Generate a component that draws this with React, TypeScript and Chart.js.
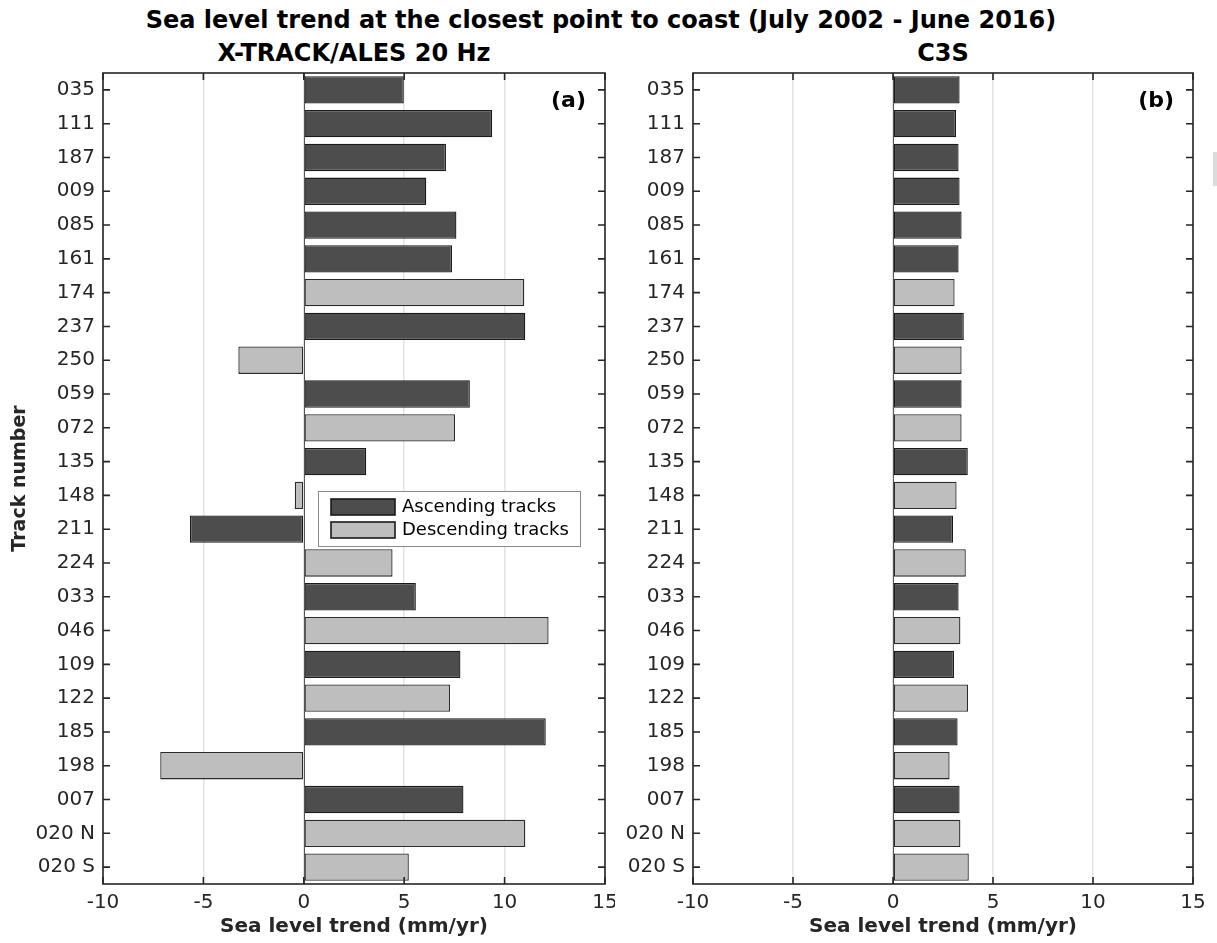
import React, { useEffect, useRef } from "react";
import { Chart, registerables } from "chart.js";
Chart.register(...registerables);

const trackLabels = ["035", "111", "187", "009", "085", "161", "174", "237", "250", "059", "072", "135", "148", "211", "224", "033", "046", "109", "122", "185", "198", "007", "020 N", "020 S"];
const trackDirection = ["A", "A", "A", "A", "A", "A", "D", "A", "D", "A", "D", "A", "D", "A", "D", "A", "D", "A", "D", "A", "D", "A", "D", "D"];
const xtrackTrend = [4.98, 9.38, 7.08, 6.1, 7.6, 7.38, 10.98, 11.03, -3.26, 8.27, 7.53, 3.11, -0.45, -5.67, 4.42, 5.58, 12.19, 7.8, 7.28, 12.05, -7.15, 7.95, 11.03, 5.23];
const c3sTrend = [3.33, 3.15, 3.28, 3.33, 3.43, 3.28, 3.08, 3.54, 3.43, 3.43, 3.43, 3.74, 3.18, 3.0, 3.64, 3.28, 3.37, 3.05, 3.75, 3.23, 2.83, 3.33, 3.37, 3.79];
const xTicks = [-10, -5, 0, 5, 10, 15];
const seriesNames = ["Ascending tracks", "Descending tracks"];

const FONT = "'DejaVu Sans', sans-serif";
const TEXT = "#262626";
const DARK = "#4d4d4d";
const LIGHT = "#bebebe";

type PanelOpts = {
  values: number[];
  panelLabel: string;
  showYTitle: boolean;
  showLegend: boolean;
  yWidth: number;
  padRight: number;
};

function makePlugin(p: PanelOpts) {
  return {
    id: "frame" + p.panelLabel,
    afterDraw(chart: any) {
      const ctx = chart.ctx as CanvasRenderingContext2D;
      const a = chart.chartArea;
      const xs = chart.scales.x;
      const ys = chart.scales.y;
      ctx.save();
      // baseline at 0
      ctx.strokeStyle = "#555555";
      ctx.lineWidth = 1;
      const x0 = Math.round(xs.getPixelForValue(0)) + 0.5;
      ctx.beginPath();
      ctx.moveTo(x0, a.top);
      ctx.lineTo(x0, a.bottom);
      ctx.stroke();
      // frame
      ctx.strokeStyle = TEXT;
      ctx.lineWidth = 1.6;
      ctx.strokeRect(a.left, a.top, a.right - a.left, a.bottom - a.top);
      // ticks
      const tl = 7;
      ctx.beginPath();
      xTicks.forEach((v) => {
        const px = xs.getPixelForValue(v);
        ctx.moveTo(px, a.top);
        ctx.lineTo(px, a.top + tl);
        ctx.moveTo(px, a.bottom);
        ctx.lineTo(px, a.bottom - tl);
      });
      trackLabels.forEach((_, i) => {
        const py = ys.getPixelForValue(i);
        ctx.moveTo(a.left, py);
        ctx.lineTo(a.left + tl, py);
        ctx.moveTo(a.right, py);
        ctx.lineTo(a.right - tl, py);
      });
      ctx.stroke();
      // panel label
      ctx.fillStyle = "#000";
      ctx.font = `bold 22px ${FONT}`;
      ctx.textAlign = "right";
      ctx.textBaseline = "middle";
      ctx.fillText(p.panelLabel, a.right - 19, a.top + 28);
      // legend
      if (p.showLegend) {
        const bx = a.left + 215;
        const by = a.top + 418;
        const bw = 262;
        const bh = 55;
        ctx.fillStyle = "#fff";
        ctx.fillRect(bx, by, bw, bh);
        ctx.strokeStyle = "#8a8a8a";
        ctx.lineWidth = 1;
        ctx.strokeRect(bx + 0.5, by + 0.5, bw, bh);
        const rows = [
          { name: seriesNames[0], fill: DARK, cy: by + 16 },
          { name: seriesNames[1], fill: LIGHT, cy: by + 39 },
        ];
        rows.forEach((r) => {
          ctx.fillStyle = r.fill;
          ctx.fillRect(bx + 13, r.cy - 8, 64, 16);
          ctx.strokeStyle = "#1a1a1a";
          ctx.lineWidth = 1.6;
          ctx.strokeRect(bx + 13, r.cy - 8, 64, 16);
          ctx.fillStyle = "#000";
          ctx.font = `18px ${FONT}`;
          ctx.textAlign = "left";
          ctx.textBaseline = "middle";
          ctx.fillText(r.name, bx + 84, r.cy);
        });
      }
      ctx.restore();
    },
  };
}

function Panel(props: PanelOpts & { left: number; width: number }) {
  const ref = useRef<HTMLCanvasElement | null>(null);
  useEffect(() => {
    if (!ref.current) return;
    const asc = props.values.map((v, i) => (trackDirection[i] === "A" ? v : null));
    const desc = props.values.map((v, i) => (trackDirection[i] === "D" ? v : null));
    const chart = new Chart(ref.current, {
      type: "bar",
      data: {
        labels: trackLabels,
        datasets: [
          {
            label: seriesNames[0],
            data: asc,
            backgroundColor: DARK,
            borderColor: "#1a1a1a",
            borderWidth: 1.3,
            borderSkipped: false,
            grouped: false,
            barPercentage: 0.81,
            categoryPercentage: 1,
          },
          {
            label: seriesNames[1],
            data: desc,
            backgroundColor: LIGHT,
            borderColor: "#2a2a2a",
            borderWidth: 1.3,
            borderSkipped: false,
            grouped: false,
            barPercentage: 0.81,
            categoryPercentage: 1,
          },
        ] as any,
      },
      options: {
        indexAxis: "y",
        animation: false,
        responsive: false,
        devicePixelRatio: 1,
        layout: { padding: { top: 13, right: props.padRight, left: 0, bottom: 0 } },
        plugins: { legend: { display: false }, tooltip: { enabled: false }, title: { display: false } },
        scales: {
          x: {
            type: "linear",
            min: -10,
            max: 15,
            afterBuildTicks: (s: any) => {
              s.ticks = xTicks.map((v) => ({ value: v }));
            },
            afterFit: (s: any) => {
              s.height = 59;
              s.paddingLeft = 0;
              s.paddingRight = 0;
              s.paddingTop = 0;
              s.paddingBottom = 0;
            },
            ticks: { font: { family: FONT, size: 20 }, color: TEXT, padding: 7, maxRotation: 0, autoSkip: false },
            grid: { color: "#e3e3e3", lineWidth: 1.5, drawTicks: false },
            border: { display: false },
            title: {
              display: true,
              text: "Sea level trend (mm/yr)",
              font: { family: FONT, size: 20, weight: "bold" },
              color: TEXT,
              padding: { top: 0, bottom: 4 },
            },
          },
          y: {
            type: "category",
            afterFit: (s: any) => {
              s.width = props.yWidth;
              s.paddingLeft = 0;
              s.paddingRight = 0;
              s.paddingTop = 0;
              s.paddingBottom = 0;
            },
            ticks: { font: { family: FONT, size: 20 }, color: TEXT, padding: 8, autoSkip: false },
            grid: { display: false, drawTicks: false },
            border: { display: false },
            title: {
              display: props.showYTitle,
              text: "Track number",
              font: { family: FONT, size: 19, weight: "bold" },
              color: TEXT,
              padding: { top: 9, bottom: 0 },
            },
          },
        },
      } as any,
      plugins: [makePlugin(props)],
    });
    return () => chart.destroy();
  }, []);
  return (
    <canvas
      ref={ref}
      width={props.width}
      height={883}
      style={{ position: "absolute", left: props.left, top: 60, width: props.width, height: 883 }}
    />
  );
}

export default function App() {
  return (
    <div style={{ position: "absolute", left: 0, top: 0, width: 1217, height: 943, background: "#fff", overflow: "hidden", fontFamily: FONT }}>
      <div style={{ position: "absolute", left: 0, width: 1202, top: 5, textAlign: "center", fontWeight: "bold", fontSize: 24, color: "#000", lineHeight: "30px" }}>
        Sea level trend at the closest point to coast (July 2002 - June 2016)
      </div>
      <div style={{ position: "absolute", left: 103, width: 502, top: 38, textAlign: "center", fontWeight: "bold", fontSize: 24, color: "#000", lineHeight: "30px" }}>
        X-TRACK/ALES 20 Hz
      </div>
      <div style={{ position: "absolute", left: 693, width: 500, top: 38, textAlign: "center", fontWeight: "bold", fontSize: 24, color: "#000", lineHeight: "30px" }}>
        C3S
      </div>
      <Panel values={xtrackTrend} panelLabel="(a)" showYTitle={true} showLegend={true} yWidth={103} padRight={10} left={0} width={615} />
      <Panel values={c3sTrend} panelLabel="(b)" showYTitle={false} showLegend={false} yWidth={78} padRight={24} left={615} width={602} />
      <div style={{ position: "absolute", left: 1213, top: 152, width: 4, height: 34, background: "#dcdcdc" }} />
    </div>
  );
}
